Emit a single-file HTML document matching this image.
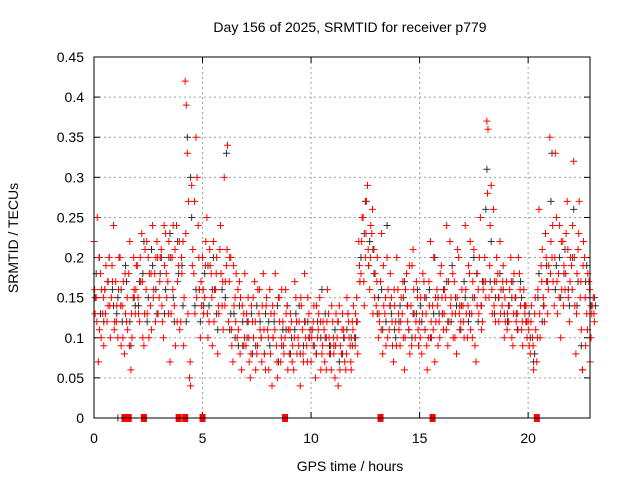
<!DOCTYPE html>
<html><head><meta charset="utf-8"><style>
body{margin:0;background:#fff}
svg{display:block;font-family:"Liberation Sans",sans-serif;font-size:14px}
</style></head><body>
<svg id="chart" width="640" height="480">
<text x="350" y="32" text-anchor="middle">Day 156 of 2025, SRMTID for receiver p779</text>
<text x="0" y="0" transform="translate(18,238) rotate(-90)" text-anchor="middle">SRMTID / TECUs</text>
<text x="350" y="471" text-anchor="middle">GPS time / hours</text>
<g id="grid"></g><g id="ticks"></g><g id="black"></g><g id="red"></g>
<rect x="94" y="57" width="496" height="361" fill="none" stroke="#000" stroke-width="1"/>
</svg>
<script>
const xTicks=[0,5,10,15,20];
const yTicks=[0,0.05,0.1,0.15,0.2,0.25,0.3,0.35,0.4,0.45];
const yTickLabels=["0","0.05","0.1","0.15","0.2","0.25","0.3","0.35","0.4","0.45"];
const redStep=0.1;
const redA=[.22,.15,.07,.18,.13,.16,.12,.2,.15,.24,.17,.1,.2,.14,.08,.12,.18,.06,.15,.13,.19,.12,.23,.09,.16,.2,.14,.24,.18,.22,.15,.21,.1,.23,.17,.07,.2,.14,.24,.19,.12,.22,.42,.33,.05,.29,.18,.35,.24,.1,.2,.15,.25,.12,.18,.22,.16,.08,.21,.14,.3,.19,.12,.2,.07,.15,.1,.17,.06,.13,.09,.15,.05,.12,.17,.08,.13,.1,.18,.06,.11,.16,.04,.13,.09,.15,.07,.12,.1,.14,.08,.12,.06,.15,.1,.04,.11,.18,.09,.13,.07,.12,.05,.1,.15,.08,.11,.06,.13,.09,.12,.05,.1,.14,.08,.11,.06,.13,.09,.12,.1,.15,.22,.18,.25,.2,.29,.16,.23,.21,.14,.1,.17,.08,.13,.2,.11,.15,.07,.12,.16,.09,.13,.06,.18,.11,.14,.21,.1,.15,.12,.08,.17,.13,.1,.22,.14,.07,.16,.12,.19,.11,.15,.09,.22,.13,.17,.08,.2,.12,.14,.24,.1,.18,.13,.21,.07,.16,.25,.12,.2,.37,.15,.29,.26,.12,.18,.22,.14,.1,.17,.12,.2,.09,.15,.13,.18,.11,.16,.14,.12,.08,.1,.13,.07,.26,.19,.15,.23,.13,.35,.2,.14,.25,.18,.1,.22,.16,.27,.12,.19,.32,.08,.21,.15,.06,.2,.13,.17,.1,.15];
const redB=[.13,.25,.11,.16,.09,.19,.14,.1,.17,.12,.14,.2,.09,.17,.13,.11,.22,.1,.16,.19,.13,.17,.1,.21,.13,.18,.11,.16,.2,.13,.2,.12,.19,.15,.22,.13,.24,.09,.17,.11,.18,.15,.39,.27,.04,.21,.13,.3,.16,.14,.13,.22,.1,.19,.09,.16,.2,.13,.18,.11,.17,.34,.2,.09,.14,.18,.11,.15,.09,.18,.12,.07,.14,.1,.06,.16,.11,.14,.08,.15,.06,.13,.1,.18,.05,.12,.16,.08,.13,.11,.13,.09,.17,.08,.12,.14,.07,.1,.15,.11,.11,.09,.14,.13,.06,.12,.1,.16,.08,.14,.08,.13,.04,.09,.13,.07,.15,.1,.06,.14,.13,.08,.17,.25,.14,.27,.19,.24,.13,.18,.2,.12,.23,.14,.09,.16,.18,.09,.14,.2,.11,.15,.1,.16,.12,.08,.19,.13,.17,.09,.15,.18,.11,.06,.14,.1,.2,.12,.09,.18,.13,.16,.24,.12,.15,.1,.13,.21,.11,.16,.1,.13,.19,.11,.17,.09,.14,.2,.11,.17,.15,.36,.24,.13,.17,.2,.12,.16,.19,.12,.13,.16,.1,.18,.12,.2,.14,.09,.13,.1,.09,.14,.06,.11,.16,.1,.21,.12,.17,.19,.22,.17,.33,.13,.24,.16,.19,.23,.15,.2,.24,.14,.18,.27,.11,.22,.09,.18,.07,.14,.12];
const redC=[.16,.12,.2,.1,.15,.13,.17,.14,.19,.11,.12,.16,.14,.1,.18,.15,.09,.13,.2,.16,.15,.2,.17,.13,.22,.1,.18,.15,.12,.2,.17,.14,.24,.18,.13,.2,.16,.21,.12,.22,.2,.09,.23,.13,.07,.19,.27,.15,.2,.17,.16,.19,.13,.21,.15,.12,.18,.14,.24,.17,.14,.21,.17,.11,.19,.12,.16,.08,.14,.1,.13,.1,.08,.15,.12,.09,.16,.07,.11,.14,.1,.08,.14,.11,.07,.15,.1,.09,.16,.06,.11,.07,.1,.12,.09,.15,.08,.12,.07,.1,.1,.14,.08,.11,.12,.09,.07,.12,.1,.06,.1,.09,.12,.06,.11,.1,.08,.12,.07,.11,.09,.12,.19,.22,.17,.23,.21,.2,.26,.15,.17,.13,.11,.19,.15,.1,.14,.12,.16,.09,.13,.12,.17,.1,.14,.19,.09,.16,.12,.11,.1,.13,.15,.09,.17,.12,.11,.15,.14,.1,.15,.13,.11,.17,.14,.18,.1,.15,.13,.14,.12,.16,.14,.22,.1,.15,.18,.13,.14,.16,.17,.28,.19,.16,.14,.17,.15,.13,.17,.15,.11,.14,.17,.13,.15,.11,.16,.12,.14,.12,.11,.12,.09,.15,.1,.13,.17,.14,.2,.16,.18,.24,.2,.17,.15,.22,.14,.18,.21,.17,.16,.2,.13,.23,.17,.19,.15,.11,.16,.13,.13];
const blackStep=0.2;
const blackV=[.18,.13,.16,.2,.14,.15,.12,.17,.09,.14,.17,.22,.15,.19,.13,.2,.16,.23,.12,.18,.14,.35,.25,.16,.12,.18,.14,.2,.11,.16,.33,.13,.1,.14,.09,.12,.08,.14,.1,.13,.09,.12,.07,.11,.14,.1,.13,.08,.12,.1,.09,.12,.16,.1,.08,.11,.07,.1,.13,.09,.12,.2,.27,.22,.18,.15,.11,.24,.13,.1,.14,.17,.11,.13,.16,.12,.15,.1,.2,.13,.16,.12,.19,.14,.11,.15,.13,.2,.12,.17,.31,.22,.15,.18,.13,.14,.17,.11,.15,.12,.1,.08,.18,.14,.17,.33,.19,.15,.21,.14,.26,.17,.06,.19,.14,.14];
const blackW=[.15,.2,.12,.17,.16,.13,.16,.19,.12,.15,.14,.18,.12,.21,.16,.18,.13,.2,.15,.22,.19,.12,.3,.14,.16,.14,.19,.16,.13,.18,.15,.11,.13,.09,.12,.1,.13,.09,.12,.08,.12,.1,.14,.09,.11,.08,.11,.14,.09,.12,.11,.08,.1,.13,.09,.09,.12,.08,.11,.1,.1,.17,.23,.19,.21,.13,.16,.12,.14,.11,.12,.15,.14,.1,.13,.14,.11,.16,.13,.15,.13,.17,.12,.15,.14,.17,.12,.15,.18,.14,.26,.17,.13,.15,.16,.12,.15,.13,.17,.14,.13,.07,.15,.12,.19,.27,.16,.2,.18,.16,.2,.14,.09,.17,.15,.15];
const redZeroT=[1.4,1.6,2.3,3.9,4.2,5.0,8.8,13.2,15.6,20.4];
const blackZeroT=[1.1,1.3,1.5];
const X=t=>94+t*(496/22.85), Y=v=>418-v*(361/0.45);
const NS="http://www.w3.org/2000/svg";
function mk(tag,attrs,parent){const e=document.createElementNS(NS,tag);for(const k in attrs)e.setAttribute(k,attrs[k]);parent.appendChild(e);return e;}
const grid=document.getElementById('grid'),ticks=document.getElementById('ticks');
yTicks.forEach((v,i)=>{const y=Y(v);
 if(i>0&&i<yTicks.length-1){const g=mk('line',{x1:94,x2:590,y1:y,y2:y,stroke:'#a0a0a0','stroke-dasharray':'2,3'},grid);
 
 }
 const t=mk('text',{x:84,y:y+5,'text-anchor':'end'},ticks);t.textContent=yTickLabels[i];
 
 
 mk('line',{x1:94,x2:100,y1:y,y2:y,stroke:'#000'},ticks);mk('line',{x1:584,x2:590,y1:y,y2:y,stroke:'#000'},ticks);});
xTicks.forEach(v=>{const x=X(v);
 if(v>0){const g=mk('line',{x1:x,x2:x,y1:57,y2:418,stroke:'#a0a0a0','stroke-dasharray':'2,3'},grid);
 
 }
 const t=mk('text',{x:x,y:443,'text-anchor':'middle'},ticks);t.textContent=String(v);
 
 
 mk('line',{x1:x,x2:x,y1:418,y2:412,stroke:'#000'},ticks);mk('line',{x1:x,x2:x,y1:57,y2:63,stroke:'#000'},ticks);});
function plus(g,x,y,c){const p=mk('path',{d:`M${x-3.5},${y}h7M${x},${y-3.5}v7`,stroke:c,'stroke-width':1,fill:'none'},g);
 
 }
const bg=document.getElementById('black'),rg=document.getElementById('red');
blackV.forEach((v,i)=>plus(bg,X(i*blackStep+0.1),Y(v),'#303030'));
blackW.forEach((v,i)=>plus(bg,X(i*blackStep+0.05),Y(v),'#303030'));
blackZeroT.forEach(t=>plus(bg,X(t),Y(0),'#303030'));
redA.forEach((v,i)=>plus(rg,X(i*redStep),Y(v),'#ff0000'));
redB.forEach((v,i)=>plus(rg,X(i*redStep+0.05),Y(v),'#ff0000'));
redC.forEach((v,i)=>plus(rg,X(i*redStep+0.03),Y(v),'#ff0000'));
redZeroT.forEach(t=>{const r=mk('rect',{x:X(t)-3,y:Y(0)-4,width:6,height:8,fill:'#ff0000'},rg);
 
 });
</script>
</body></html>
